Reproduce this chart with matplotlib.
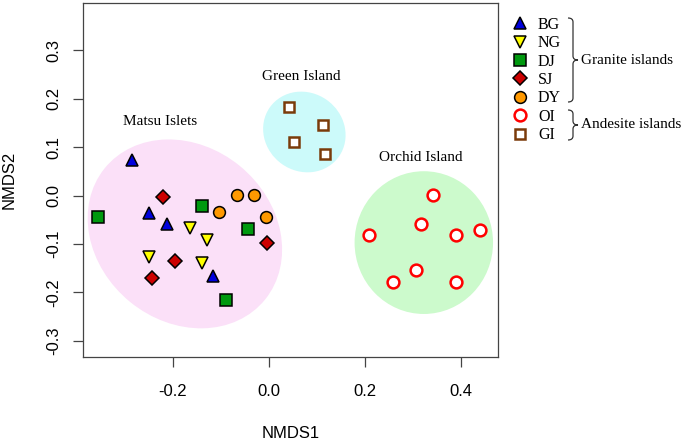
import matplotlib
matplotlib.use('Agg')
import matplotlib.pyplot as plt
from matplotlib.patches import Ellipse, PathPatch
from matplotlib.path import Path
from matplotlib.lines import Line2D

# NMDS scores
bg_x = [-0.284, -0.249, -0.213, -0.116]
bg_y = [0.074, -0.035, -0.058, -0.167]
ng_x = [-0.164, -0.128, -0.249, -0.140]
ng_y = [-0.067, -0.092, -0.126, -0.139]
dj_x = [-0.356, -0.140, -0.044, -0.089]
dj_y = [-0.045, -0.021, -0.069, -0.216]
sj_x = [-0.220, -0.004, -0.196, -0.243]
sj_y = [-0.002, -0.098, -0.134, -0.171]
dy_x = [-0.067, -0.031, -0.104, -0.007]
dy_y = [0.002, 0.002, -0.034, -0.045]
oi_x = [0.341, 0.317, 0.209, 0.388, 0.438, 0.305, 0.257, 0.388]
oi_y = [0.002, -0.058, -0.082, -0.082, -0.070, -0.154, -0.178, -0.178]
gi_x = [0.041, 0.113, 0.052, 0.117]
gi_y = [0.183, 0.146, 0.110, 0.087]

x_ticks = [-0.2, 0.0, 0.2, 0.4]
y_ticks = [-0.3, -0.2, -0.1, 0.0, 0.1, 0.2, 0.3]

SERIF = 'Liberation Serif'
SANS = 'Liberation Sans'

# marker styles per group
styles = {
    'BG': dict(marker='^', ms=8.5, mfc='#0000dd', mec='black', mew=1.1),
    'NG': dict(marker='v', ms=8.5, mfc='#ffff00', mec='black', mew=1.1),
    'DJ': dict(marker='s', ms=8, mfc='#00990f', mec='black', mew=1.1),
    'SJ': dict(marker='D', ms=7.5, mfc='#cc0000', mec='black', mew=1.1),
    'DY': dict(marker='o', ms=8.5, mfc='#ff9900', mec='black', mew=1.1),
    'OI': dict(marker='o', ms=8.5, mfc='white', mec='#ff0000', mew=1.8),
    'GI': dict(marker='s', ms=7.5, mfc='white', mec='#7a3b0a', mew=1.8),
}
groups = [('BG', bg_x, bg_y), ('NG', ng_x, ng_y), ('DJ', dj_x, dj_y),
          ('SJ', sj_x, sj_y), ('DY', dy_x, dy_y), ('OI', oi_x, oi_y),
          ('GI', gi_x, gi_y)]

fig = plt.figure(figsize=(6.85, 4.4), dpi=100)
ax = fig.add_axes([0.1207, 0.188, 0.6068, 0.8059])

# group ellipses
ax.add_patch(Ellipse((-0.175, -0.079), 0.43, 0.362, angle=-39,
                     facecolor='#fbe0f8', edgecolor='none', zorder=0))
ax.add_patch(Ellipse((0.0735, 0.1316), 0.176, 0.162, angle=-35,
                     facecolor='#ccfafa', edgecolor='none', zorder=0))
ax.add_patch(Ellipse((0.322, -0.097), 0.288, 0.295,
                     facecolor='#ccfacc', edgecolor='none', zorder=0))

for name, xs, ys in groups:
    ax.plot(xs, ys, linestyle='none', zorder=3, **styles[name])

ax.text(-0.227, 0.153, 'Matsu Islets', family=SERIF, fontsize=11, ha='center', va='center')
ax.text(0.068, 0.246, 'Green Island', family=SERIF, fontsize=11, ha='center', va='center')
ax.text(0.316, 0.078, 'Orchid Island', family=SERIF, fontsize=11, ha='center', va='center')

ax.set_xlim(-0.3876, 0.477)
ax.set_ylim(-0.334, 0.3988)
ax.set_xticks(x_ticks)
ax.set_yticks(y_ticks)
ax.set_xticklabels([f'{v:.1f}' for v in x_ticks], family=SANS, fontsize=12)
ax.set_yticklabels([f'{v:.1f}' for v in y_ticks], family=SANS, fontsize=12,
                   rotation=90, va='center')
ax.tick_params(axis='x', length=7.2, width=0.9, color='#444444', pad=12)
ax.tick_params(axis='y', length=7.2, width=0.9, color='#444444', pad=8)
for sp in ax.spines.values():
    sp.set_color('#444444')
    sp.set_linewidth(0.9)

ax.set_xlabel('NMDS1', family=SANS, fontsize=12)
ax.set_ylabel('NMDS2', family=SANS, fontsize=12)
ax.xaxis.set_label_coords(0.5, -0.193)
ax.yaxis.set_label_coords(-0.158, 0.5)

# legend
handles = [Line2D([], [], linestyle='none', **styles[n]) for n, _, _ in groups]
ax.legend(handles, [n for n, _, _ in groups], loc='upper left',
          bbox_to_anchor=(0.748, 0.962), bbox_transform=fig.transFigure,
          frameon=False, prop=dict(family=SERIF, size=11.5),
          handlelength=1.0, handletextpad=0.6, labelspacing=0.15,
          borderpad=0, borderaxespad=0, numpoints=1)


def brace(x, y_top, y_bot, w=5, r=4):
    # right-pointing curly brace, pixel coords from top-left
    ym = (y_top + y_bot) / 2
    pts = [(x - w, y_top), (x, y_top), (x, y_top + r),
           (x, ym - r), (x, ym), (x + w, ym),
           (x, ym), (x, ym + r),
           (x, y_bot - r), (x, y_bot), (x - w, y_bot)]
    codes = [Path.MOVETO, Path.CURVE3, Path.CURVE3,
             Path.LINETO, Path.CURVE3, Path.CURVE3,
             Path.CURVE3, Path.CURVE3,
             Path.LINETO, Path.CURVE3, Path.CURVE3]
    pts = [(px / 685, 1 - py / 440) for px, py in pts]
    fig.add_artist(PathPatch(Path(pts, codes), transform=fig.transFigure,
                             fill=False, edgecolor='#333333', linewidth=0.9))


brace(573, 18, 102)
brace(573, 110, 140)
fig.text(581 / 685, 1 - 60 / 440, 'Granite islands', family=SERIF, fontsize=11,
         ha='left', va='center')
fig.text(581 / 685, 1 - 124 / 440, 'Andesite islands', family=SERIF, fontsize=11,
         ha='left', va='center')

fig.savefig('out.png', dpi=100)
